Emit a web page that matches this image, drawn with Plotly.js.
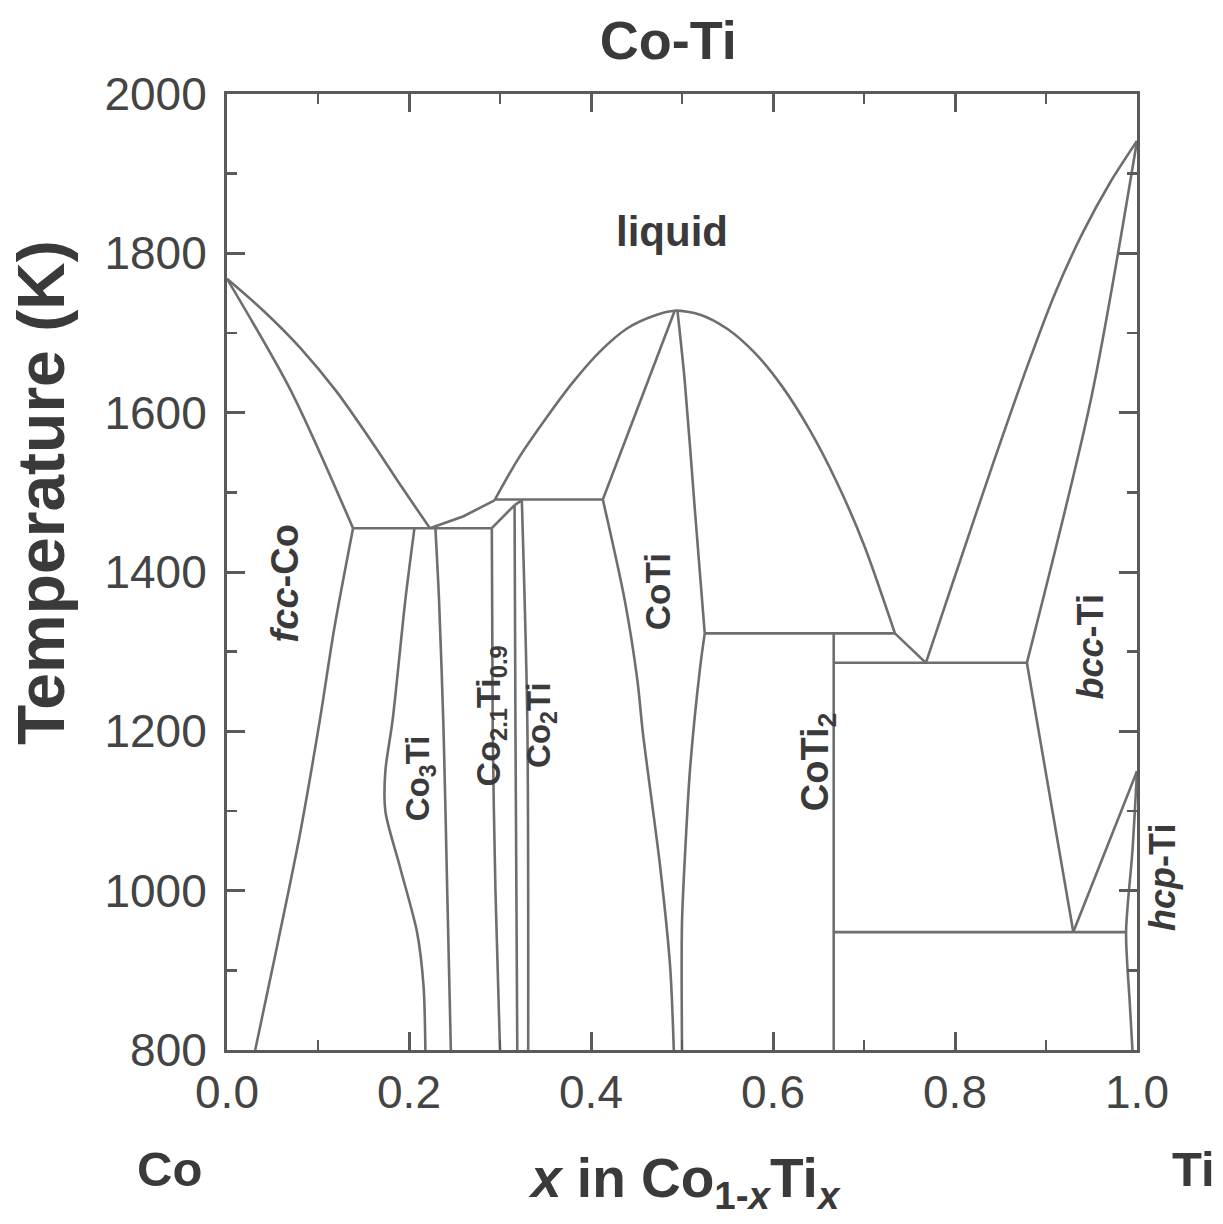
<!DOCTYPE html>
<html>
<head>
<meta charset="utf-8">
<script src="https://cdn.plot.ly/plotly-3.0.1.min.js"></script>
<style>html,body{margin:0;padding:0;background:#fff;}#chart{width:1223px;height:1224px;}</style>
</head>
<body>
<div id="chart"></div>
<script>
// ---- Phase boundary data (x = mole fraction Ti, T in K) ----
const liqCoX = [0, 0.04, 0.08, 0.12, 0.16, 0.193, 0.223];
const liqCoT = [1768, 1728, 1682, 1627, 1562, 1505, 1455];
const solCoX = [0, 0.07, 0.1385];
const solCoT = [1768, 1628, 1455];
const solvCoX = [0.1385, 0.118, 0.102, 0.08, 0.055, 0.031];
const solvCoT = [1455, 1330, 1214, 1070, 930, 800];
const eut1X = [0.1385, 0.291];
const eut1T = [1455, 1455];
const liq2X = [0.223, 0.26, 0.294];
const liq2T = [1455, 1470, 1490];
const domeX = [0.294, 0.32, 0.35, 0.38, 0.41, 0.44, 0.47, 0.492, 0.52, 0.55, 0.58, 0.61, 0.64, 0.67, 0.70, 0.734];
const domeT = [1490, 1542, 1592, 1638, 1677, 1706, 1722, 1728, 1723, 1705, 1675, 1633, 1579, 1513, 1434, 1323];
const liq3X = [0.734, 0.768];
const liq3T = [1323, 1286];
const perCoTiX = [0.294, 0.413];
const perCoTiT = [1491, 1491];
const coTiLUX = [0.413, 0.492];
const coTiLUT = [1491, 1728];
const coTiLLX = [0.413, 0.437, 0.451, 0.457, 0.476, 0.487, 0.491];
const coTiLLT = [1491, 1365, 1264, 1198, 1030, 904, 800];
const coTiRUX = [0.495, 0.503, 0.514, 0.525];
const coTiRUT = [1728, 1640, 1480, 1323];
const coTiRLX = [0.525, 0.52, 0.509, 0.504, 0.5, 0.5];
const coTiRLT = [1323, 1281, 1155, 1060, 960, 800];
const perCoTi2X = [0.525, 0.734];
const perCoTi2T = [1323, 1323];
const coTi2X = [0.6667, 0.6667];
const coTi2T = [1323, 800];
const eut2X = [0.6667, 0.879];
const eut2T = [1286, 1286];
const liqTiX = [0.768, 0.80, 0.84, 0.88, 0.91, 0.94, 0.97, 1.0];
const liqTiT = [1286, 1395, 1530, 1660, 1750, 1825, 1888, 1941];
const solTiX = [1.0, 0.95, 0.879];
const solTiT = [1941, 1620, 1286];
const bccLX = [0.879, 0.93];
const bccLT = [1286, 948];
const bccRX = [0.93, 1.0];
const bccRT = [948, 1150];
const eutdX = [0.6667, 0.988];
const eutdT = [948, 948];
const hcpX = [1.0, 0.995, 0.988, 0.992, 0.995];
const hcpT = [1150, 1050, 948, 860, 800];
const co3TiLX = [0.206, 0.196, 0.182, 0.174, 0.174, 0.19, 0.209, 0.216, 0.218];
const co3TiLT = [1455, 1365, 1214, 1150, 1100, 1030, 947, 880, 800];
const co3TiRX = [0.229, 0.233, 0.238, 0.242, 0.246];
const co3TiRT = [1455, 1365, 1200, 1000, 800];
const co21TopX = [0.291, 0.316];
const co21TopT = [1455, 1484];
const co21LX = [0.291, 0.292, 0.295, 0.300];
const co21LT = [1455, 1200, 1000, 800];
const co2TiLX = [0.316, 0.317, 0.319];
const co2TiLT = [1484, 1200, 800];
const co2TiTopX = [0.316, 0.324];
const co2TiTopT = [1484, 1490];
const co2TiRX = [0.324, 0.330, 0.331];
const co2TiRT = [1490, 1214, 800];

// tick labels
const xTickVals = [0, 0.2, 0.4, 0.6, 0.8, 1.0];
const xTickText = ['0.0', '0.2', '0.4', '0.6', '0.8', '1.0'];
const yTickVals = [800, 1000, 1200, 1400, 1600, 1800, 2000];
const yTickText = ['800', '1000', '1200', '1400', '1600', '1800', '2000'];

const curves = [
  [liqCoX, liqCoT, 'spline'], [solCoX, solCoT, 'spline'], [solvCoX, solvCoT, 'spline'],
  [eut1X, eut1T, 'linear'], [liq2X, liq2T, 'linear'], [domeX, domeT, 'spline'],
  [liq3X, liq3T, 'linear'], [perCoTiX, perCoTiT, 'linear'], [coTiLUX, coTiLUT, 'linear'],
  [coTiLLX, coTiLLT, 'spline'], [coTiRUX, coTiRUT, 'spline'], [coTiRLX, coTiRLT, 'spline'],
  [perCoTi2X, perCoTi2T, 'linear'], [coTi2X, coTi2T, 'linear'], [eut2X, eut2T, 'linear'],
  [liqTiX, liqTiT, 'spline'], [solTiX, solTiT, 'spline'], [bccLX, bccLT, 'linear'],
  [bccRX, bccRT, 'linear'], [eutdX, eutdT, 'linear'], [hcpX, hcpT, 'spline'],
  [co3TiLX, co3TiLT, 'spline'], [co3TiRX, co3TiRT, 'spline'], [co21TopX, co21TopT, 'linear'],
  [co21LX, co21LT, 'spline'], [co2TiLX, co2TiLT, 'spline'], [co2TiTopX, co2TiTopT, 'linear'],
  [co2TiRX, co2TiRT, 'spline']
];

const lineColor = '#6e6e6e';
const traces = curves.map(c => ({
  x: c[0], y: c[1], type: 'scatter', mode: 'lines',
  line: {color: lineColor, width: 2.6, shape: c[2], smoothing: 0.8},
  hoverinfo: 'skip', showlegend: false, cliponaxis: false
}));

const txt = '#3a3a3a';
const F = 'Liberation Sans, Arial, Helvetica, sans-serif';
function lab(text, x, y, size, opts) {
  return Object.assign({text: text, x: x, y: y, xref: 'x', yref: 'y', showarrow: false,
    textangle: -90, font: {family: F, size: size, color: txt},
    xanchor: 'center', yanchor: 'middle'}, opts || {});
}

const annotations = [
  lab('<b>liquid</b>', 0.489, 1827, 42, {textangle: 0}),
  lab('<b><i>fcc</i>-Co</b>', 0.064, 1386, 38),
  lab('<b>Co<sub>3</sub>Ti</b>', 0.213, 1141, 33),
  lab('<b>Co<sub>2.1</sub>Ti<sub>0.9</sub></b>', 0.289, 1220, 34),
  lab('<b>Co<sub>2</sub>Ti</b>', 0.345, 1208, 33),
  lab('<b>CoTi</b>', 0.474, 1375, 35),
  lab('<b>CoTi<sub>2</sub></b>', 0.649, 1162, 38),
  lab('<b><i>bcc</i>-Ti</b>', 0.949, 1306, 36),
  lab('<b><i>hcp</i>-Ti</b>', 1.0286, 1016, 36, {xref: 'paper'}),
  // axis titles and end labels
  {text: '<b>Temperature (K)</b>', xref: 'paper', yref: 'paper', x: -0.205, y: 0.583,
   showarrow: false, textangle: -90, font: {family: F, size: 66, color: txt}, xanchor: 'center', yanchor: 'middle'},
  {text: '<b><i>x</i> in Co<sub>1-<i>x</i></sub>Ti<sub><i>x</i></sub></b>', xref: 'paper', yref: 'paper',
   x: 0.503, y: -0.138, showarrow: false, font: {family: F, size: 55, color: txt}, xanchor: 'center', yanchor: 'middle'},
  {text: '<b>Co</b>', xref: 'paper', yref: 'paper', x: -0.063, y: -0.124, showarrow: false,
   font: {family: F, size: 49, color: txt}, xanchor: 'center', yanchor: 'middle'},
  {text: '<b>Ti</b>', xref: 'paper', yref: 'paper', x: 1.062, y: -0.124, showarrow: false,
   font: {family: F, size: 49, color: txt}, xanchor: 'center', yanchor: 'middle'}
];

const axisCommon = {
  showgrid: false, zeroline: false, showline: true, linecolor: '#5a5a5a', linewidth: 3,
  mirror: 'ticks', ticks: 'inside', ticklen: 18, tickwidth: 3, tickcolor: '#5a5a5a',
  tickfont: {family: F, size: 46, color: '#444'}
};

const layout = {
  width: 1223, height: 1224,
  margin: {l: 227, r: 86, t: 94, b: 174, pad: 0},
  paper_bgcolor: '#fff', plot_bgcolor: '#fff',
  title: {text: '<b>Co-Ti</b>', xref: 'paper', x: 0.485, xanchor: 'center',
          yref: 'container', y: 0.967, yanchor: 'middle',
          font: {family: F, size: 54, color: txt}},
  xaxis: Object.assign({}, axisCommon, {
    range: [0, 1], tickvals: xTickVals, ticktext: xTickText, ticklabelstandoff: 0,
    minor: {ticks: 'inside', ticklen: 10, tickwidth: 2.5, tickcolor: '#5a5a5a', dtick: 0.1, tick0: 0}
  }),
  yaxis: Object.assign({}, axisCommon, {
    range: [800, 2000], tickvals: yTickVals, ticktext: yTickText, ticklabelstandoff: 8,
    minor: {ticks: 'inside', ticklen: 10, tickwidth: 2.5, tickcolor: '#5a5a5a', dtick: 100, tick0: 800}
  }),
  annotations: annotations,
  showlegend: false
};

Plotly.newPlot('chart', traces, layout, {displayModeBar: false, staticPlot: true});
</script>
</body>
</html>
